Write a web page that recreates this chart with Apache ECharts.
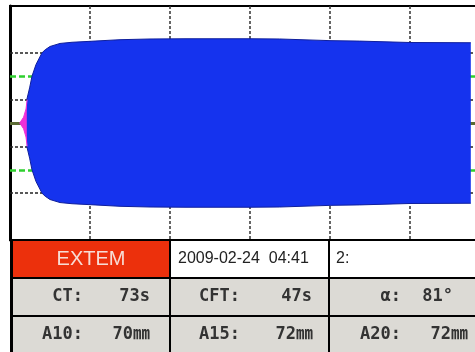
<!DOCTYPE html>
<html>
<head>
<meta charset="utf-8">
<script src="https://cdn.jsdelivr.net/npm/echarts@6/dist/echarts.min.js"></script>
<style>
  html, body { margin: 0; padding: 0; background: #fff; }
  #chart { width: 475px; height: 352px; }
</style>
</head>
<body>
<div id="chart"></div>
<script>
// Thromboelastometry trace: time in minutes, half-amplitude in mm (mirrored around 0)
const spindleTime = [1.22, 1.7, 2.0, 2.15];
const spindleHalf = [0, 2.5, 6, 10];

const clotTime = [2.1, 2.45, 2.75, 3.25, 4.0, 4.4, 5.0, 6.25, 7.75, 10, 13.75, 17.5, 22, 30, 33.7, 33.8, 40, 43.7, 43.8, 50, 57.6];
const clotHalf = [10, 15, 20, 25, 30, 31.3, 32.7, 34.0, 34.5, 34.9, 35.6, 35.9, 36.0, 36.0, 35.9, 35.7, 35.2, 35.0, 34.5, 34.4, 34.3];

// Reference amplitude levels (mm) drawn behind the trace
const blackLevels = [-30, -10, 10, 30];
const greenLevels = [-20, 20];
const centerLevel = 0;

// Result table
const testName = 'EXTEM';
const runStamp = '2009-02-24  04:41';
const channel = '2:';
const paramLabels = ['CT:', 'CFT:', 'α:', 'A10:', 'A15:', 'A20:'];
const paramValues = ['73s', '47s', '81°', '70㎜', '72㎜', '72㎜'];

const upper = (ts, hs) => ts.map((t, i) => [t, hs[i]]);
const lower = (ts, hs) => ts.map((t, i) => [t, -hs[i]]);

const BLUE = '#1533ee';
const PINK = '#f030d8';

const levelLines = [
  ...blackLevels.map(v => ({ yAxis: v, lineStyle: { color: '#222', width: 1.5, type: [3, 2] } })),
  ...greenLevels.map(v => ({ yAxis: v, lineStyle: { color: '#2fcf2f', width: 2.5, type: [6, 3] } })),
  { yAxis: centerLevel, lineStyle: { color: '#5b6b34', width: 3, type: 'solid' } }
];

function areaSeries(data, color, edge) {
  return {
    type: 'line',
    data: data,
    showSymbol: false,
    symbol: 'none',
    z: 3,
    lineStyle: { color: edge, width: 1 },
    areaStyle: { color: color, opacity: 1, origin: 0 },
    silent: true
  };
}

// ---- table layout ----
const colX = [12, 170, 329, 475];
const rowY = [240, 278, 316, 354];
const graphics = [];

function rect(x, y, w, h, fill) {
  graphics.push({ type: 'rect', shape: { x, y, width: w, height: h }, style: { fill }, z: 1, silent: true });
}
function line(x1, y1, x2, y2, w) {
  graphics.push({ type: 'line', shape: { x1, y1, x2, y2 }, style: { stroke: '#000', lineWidth: w }, z: 2, silent: true });
}
function text(x, y, str, font, fill, align) {
  graphics.push({
    type: 'text', x, y, z: 3, silent: true,
    style: { text: str, font, fill, align, verticalAlign: 'middle', textAlign: align, textVerticalAlign: 'middle' }
  });
}

// backgrounds
rect(colX[0], rowY[0], colX[1] - colX[0], rowY[1] - rowY[0], '#ec300c');
rect(colX[1], rowY[0], colX[3] - colX[1], rowY[1] - rowY[0], '#ffffff');
rect(colX[0], rowY[1], colX[3] - colX[0], rowY[3] - rowY[1], '#dcdad5');
// grid lines
rowY.slice(0, 3).forEach(y => line(colX[0], y, colX[3], y, 2));
line(11.5, rowY[0], 11.5, 352, 3);
line(colX[1], rowY[0], colX[1], 352, 2);
line(colX[2], rowY[0], colX[2], 352, 2);

// header row
const rowMid = [0, 1, 2].map(i => (rowY[i] + rowY[i + 1]) / 2);
text(91, rowMid[0], testName, '20px "Liberation Sans", Arial, sans-serif', '#f7dcd4', 'center');
text(178, rowMid[0], runStamp, '16px "Liberation Sans", Arial, sans-serif', '#222', 'left');
text(336, rowMid[0], channel, '16px "Liberation Sans", Arial, sans-serif', '#222', 'left');

// parameter rows
const labelRight = [83, 240, 401];
const valueRight = [[150, 312, 453], [150, 313, 468]];
const pFont = 'bold 17px "DejaVu Sans Mono", "Noto Sans CJK JP", monospace';
paramLabels.forEach((lab, i) => {
  const r = Math.floor(i / 3), c = i % 3;
  text(labelRight[c], rowMid[r + 1], lab, pFont, '#333', 'right');
  text(valueRight[r][c], rowMid[r + 1], paramValues[i], pFont, '#333', 'right');
});

const chart = echarts.init(document.getElementById('chart'), null, { renderer: 'canvas' });
chart.setOption({
  animation: false,
  backgroundColor: '#fff',
  grid: {
    left: 10, top: 6, width: 480, height: 234,
    outerBoundsMode: 'none', containLabel: false,
    show: true, borderColor: '#000', borderWidth: 2, backgroundColor: '#fff'
  },
  xAxis: {
    type: 'value', min: 0, max: 60, interval: 10,
    axisLine: { show: false }, axisTick: { show: false }, axisLabel: { show: false },
    splitLine: { show: true, lineStyle: { color: '#333', width: 1.5, type: [3, 2] } }
  },
  yAxis: {
    type: 'value', min: -50, max: 50,
    axisLine: { show: true, onZero: false, lineStyle: { color: '#000', width: 3 } },
    axisTick: { show: false }, axisLabel: { show: false },
    splitLine: { show: false }
  },
  series: [
    {
      type: 'line', data: [], z: 1, silent: true,
      markLine: { silent: true, symbol: 'none', z: 1, label: { show: false }, animation: false, data: levelLines }
    },
    areaSeries(upper(spindleTime, spindleHalf), PINK, PINK),
    areaSeries(lower(spindleTime, spindleHalf), PINK, PINK),
    areaSeries(upper(clotTime, clotHalf), BLUE, '#0f1f9c'),
    areaSeries(lower(clotTime, clotHalf), BLUE, '#0f1f9c')
  ],
  graphic: graphics
});
</script>
</body>
</html>
